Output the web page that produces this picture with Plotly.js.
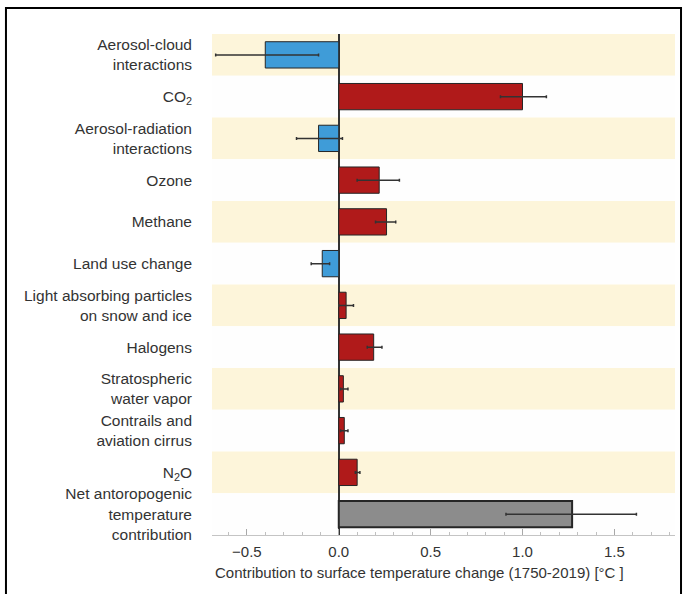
<!DOCTYPE html>
<html>
<head>
<meta charset="utf-8">
<script src="https://cdn.plot.ly/plotly-3.0.1.min.js"></script>
<style>
  html, body { margin: 0; padding: 0; background: #ffffff; }
  #chart { width: 686px; height: 594px; }
</style>
</head>
<body>
<div id="chart"></div>
<script>
// ---- data ----
const categories = [
  "Aerosol-cloud<br>interactions",
  "CO<sub>2</sub>",
  "Aerosol-radiation<br>interactions",
  "Ozone",
  "Methane",
  "Land use change",
  "Light absorbing particles<br>on snow and ice",
  "Halogens",
  "Stratospheric<br>water vapor",
  "Contrails and<br>aviation cirrus",
  "N<sub>2</sub>O",
  "Net antoropogenic<br>temperature<br>contribution"
];
const values   = [-0.40, 1.00, -0.11, 0.22, 0.26, -0.09, 0.04, 0.19, 0.025, 0.03, 0.10, 1.27];
const errLow   = [-0.67, 0.88, -0.23, 0.10, 0.20, -0.15, 0.00, 0.155, 0.01, 0.01, 0.09, 0.91];
const errHigh  = [-0.11, 1.13,  0.02, 0.33, 0.31, -0.05, 0.08, 0.235, 0.05, 0.05, 0.115, 1.62];
const barKind  = ["cool","warm","cool","warm","warm","cool","warm","warm","warm","warm","warm","net"];
const xTickVals = [-0.5, 0.0, 0.5, 1.0, 1.5];
const xTitle = "Contribution to surface temperature change (1750-2019) [°C ]";

// ---- styles ----
const kindColor = {cool: "#3f9cd8", warm: "#b01a1a", net: "#8c8c8c"};
const kindLine  = {cool: 1, warm: 1, net: 2};
const bandColor = "#fdf5da";
const whiteBand = "#fefefe";

const n = categories.length;
const plusArr = values.map((v, i) => errHigh[i] - v);
const minusArr = values.map((v, i) => v - errLow[i]);

const trace = {
  type: "bar",
  orientation: "h",
  y: categories,
  x: values,
  width: 0.63,
  marker: {
    color: barKind.map(k => kindColor[k]),
    line: { color: "#262626", width: barKind.map(k => kindLine[k]) }
  },
  error_x: {
    type: "data",
    symmetric: false,
    array: plusArr,
    arrayminus: minusArr,
    color: "#333333",
    thickness: 1.5,
    width: 1.5
  },
  hoverinfo: "x+y"
};

// alternating background bands
const shapes = [];
for (let i = 0; i < n; i++) {
  shapes.push({
    type: "rect", layer: "below",
    xref: "paper", yref: "y",
    x0: 0, x1: 1, y0: i - 0.5, y1: i + 0.5,
    fillcolor: (i % 2 === 0) ? bandColor : whiteBand,
    line: { width: 0 }
  });
}
// outer frame of the figure
shapes.push({
  type: "rect", layer: "above",
  xref: "paper", yref: "paper",
  x0: -0.445, x1: 1.013, y0: -0.2, y1: 1.052,
  line: { color: "#000000", width: 2 },
  fillcolor: "rgba(0,0,0,0)"
});

const layout = {
  width: 686,
  height: 594,
  margin: { l: 212, r: 11, t: 34, b: 59 },
  paper_bgcolor: "#ffffff",
  plot_bgcolor: "#ffffff",
  showlegend: false,
  font: { family: "Liberation Sans, Arial, sans-serif", color: "#333333", size: 15 },
  bargap: 0.37,
  xaxis: {
    range: [-0.69, 1.83],
    tickvals: xTickVals,
    tickformat: ".1f",
    showgrid: false,
    zeroline: true,
    zerolinecolor: "#333333",
    zerolinewidth: 1.5,
    showline: true,
    linecolor: "#c4c4c4",
    linewidth: 1,
    ticks: "inside",
    ticklen: 6,
    tickcolor: "#a8a8a8",
    tickwidth: 1,
    minor: { dtick: 0.1, ticks: "inside", ticklen: 3, tickcolor: "#c0c0c0", showgrid: false },
    tickfont: { size: 15, color: "#333333" },
    ticklabelstandoff: 3,
    fixedrange: true
  },
  yaxis: {
    type: "category",
    autorange: "reversed",
    showgrid: false,
    zeroline: false,
    showline: false,
    ticks: "",
    tickfont: { size: 15.5, color: "#333333" },
    ticklabelstandoff: 19,
    fixedrange: true
  },
  shapes: shapes,
  annotations: [{
    text: xTitle,
    xref: "paper", yref: "paper",
    x: 0.449, y: -0.074,
    xanchor: "center", yanchor: "middle",
    showarrow: false,
    font: { size: 15, color: "#333333" }
  }]
};

Plotly.newPlot("chart", [trace], layout, { displayModeBar: false, staticPlot: true });
</script>
</body>
</html>
